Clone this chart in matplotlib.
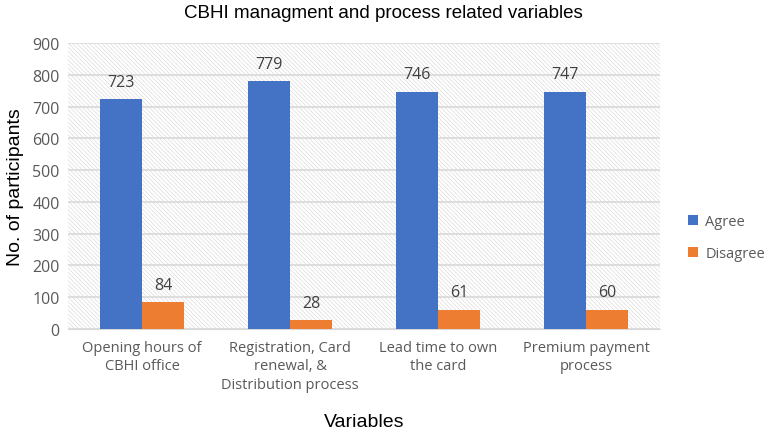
import matplotlib.pyplot as plt
import numpy as np
from matplotlib.patches import Rectangle

categories = ['Opening hours of\nCBHI office',
              'Registration, Card\nrenewal, &\nDistribution process',
              'Lead time to own\nthe card',
              'Premium payment\nprocess']
agree = [723, 779, 746, 747]
disagree = [84, 28, 61, 60]

plt.rcParams['font.family'] = ['Open Sans', 'DejaVu Sans']
plt.rcParams['hatch.linewidth'] = 0.45
plt.rcParams['hatch.color'] = '#d9d9d9'

fig = plt.figure(figsize=(7.67, 4.31), dpi=100)
ax = fig.add_axes([68 / 767, 1 - 330 / 431, (660 - 68) / 767, (330 - 44) / 431])

x = np.arange(len(categories))
w = 0.285
b1 = ax.bar(x - w / 2, agree, w, color='#4472c4', label='Agree', zorder=3)
b2 = ax.bar(x + w / 2, disagree, w, color='#ed7d31', label='Disagree', zorder=3)

for bars in (b1, b2):
    for r in bars:
        ax.text(r.get_x() + r.get_width() / 2, r.get_height() + 30, f'{int(r.get_height())}',
                ha='center', va='bottom', fontsize=11.5, color='#404040', zorder=4)

# hatched background
ax.add_patch(Rectangle((0, 0), 1, 1, transform=ax.transAxes, facecolor='white',
                       edgecolor='#d9d9d9', hatch='\\' * 8, linewidth=0, zorder=0))

ax.set_xlim(-0.5, 3.5)
ax.set_ylim(0, 900)
ax.set_yticks(range(0, 901, 100))
ax.yaxis.grid(True, color='#d9d9d9', linewidth=1.2, zorder=1)
ax.set_axisbelow(True)
for s in ['top', 'right', 'left']:
    ax.spines[s].set_visible(False)
ax.spines['bottom'].set_color('#d9d9d9')
ax.tick_params(axis='both', length=0, labelsize=10.5, colors='#595959')
ax.tick_params(axis='y', labelsize=11.5, pad=6)
ax.tick_params(axis='x', pad=8)
ax.set_xticks(x)
ax.set_xticklabels(categories, linespacing=1.3)

ax.set_ylabel('No. of participants', fontsize=14, family=['Liberation Sans'], labelpad=6)
ax.set_xlabel('Variables', fontsize=14, family=['Liberation Sans'], labelpad=15)
fig.text(0.5, 1 - 14 / 431, 'CBHI managment and process related variables', ha='center', va='center',
         fontsize=13.5, family=['Liberation Sans'])

ax.legend(loc='center left', bbox_to_anchor=(1.025, 0.32), frameon=False, fontsize=10.5,
          handlelength=0.7, handleheight=0.7, handletextpad=0.5, labelcolor='#595959',
          labelspacing=1.2)

fig.savefig('out.png', dpi=100)
